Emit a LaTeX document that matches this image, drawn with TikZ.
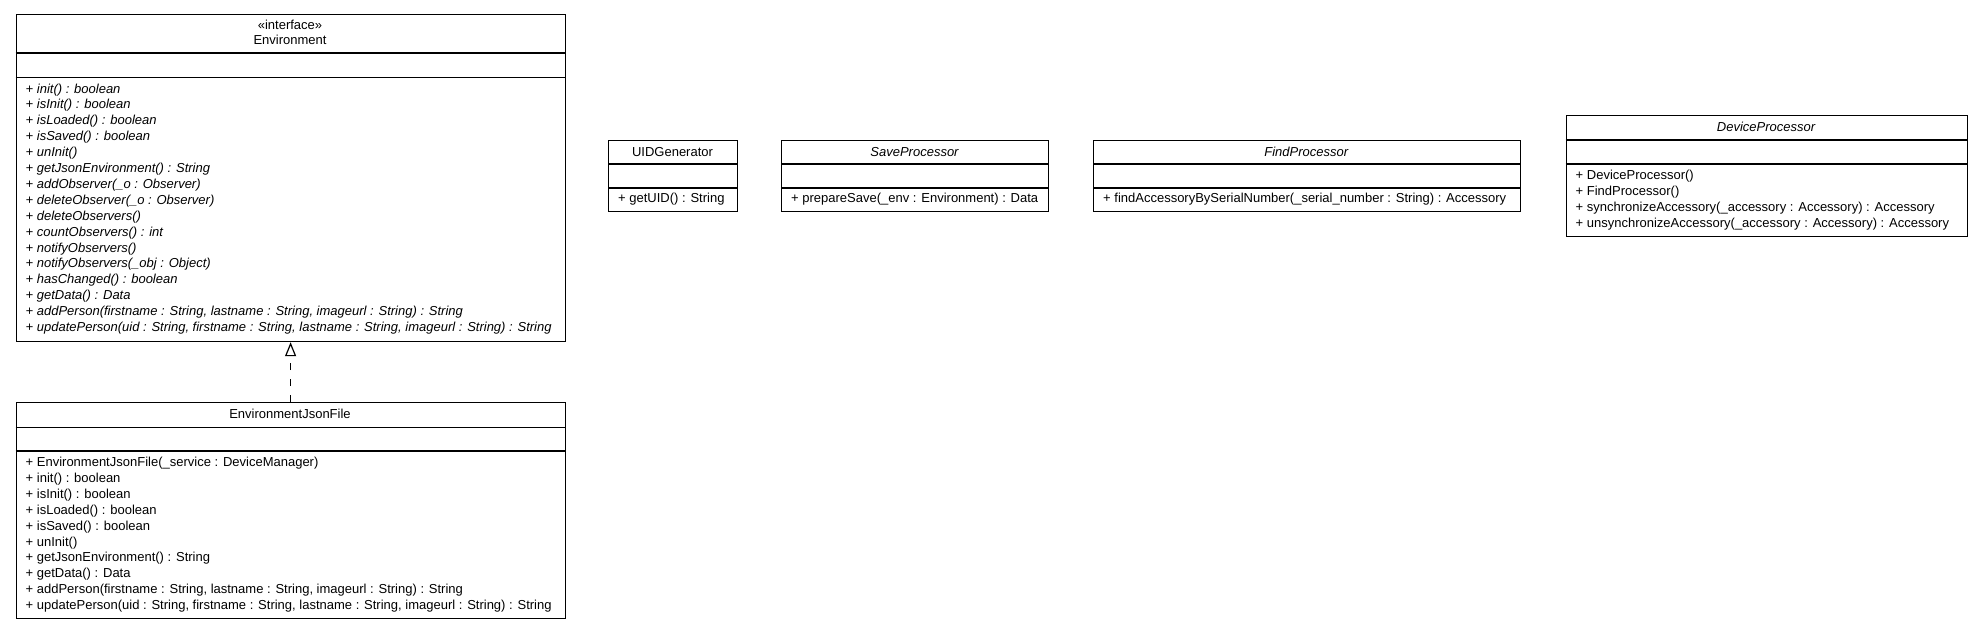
\documentclass[tikz,border=0pt]{standalone}
\usepackage{fontspec}
\setmainfont{Liberation Sans}
\usepackage{tikz}
\usetikzlibrary{arrows.meta}
\tikzstyle{diagram} = [x = 1pt, y = -1pt]
\tikzstyle{classFrame} = [draw=black, line width=1.2pt, inner sep=0pt, anchor=north west]
\tikzstyle{classLine} = [color=black, line width=1.2pt]
\tikzstyle{classText} = [font=\fontsize{13}{16}\selectfont, inner sep=0pt]
\tikzstyle{abstractText} = [font=\fontsize{13}{16}\selectfont\itshape]
\tikzstyle{plainText} = []
\tikzstyle{nameText} = [classText, anchor=base]
\tikzstyle{methodText} = [classText, anchor=base west]
\tikzstyle{realization} = [line width=1.2pt, dash pattern=on 7pt off 9pt, -{Triangle[open, length=14pt, width=11pt]}]
\newcommand{\methodOffset}{10}
\newcommand{\methodSkip}{15.9}
\newcommand{\classBox}[7]{\node [classFrame, minimum width={#4 - #2}, minimum height={#5 - #3}] (#1) at (#2, #3) {};
  \draw [classLine] (#2, #6) -- (#4, #6);
  \draw [classLine] (#2, #7) -- (#4, #7);}
\newcommand{\className}[5]{\node [nameText, #2] (#1) at (#3, #4) {#5};}
\newcommand{\methods}[5]{
  \foreach \method [count = \row] in {#5} {
    \pgfmathsetmacro{\var}{#4 + (\row - 1) * \methodSkip}
    \node [methodText, #2] (#1-\row) at (#3 + \methodOffset, \var) {\method};
  }
}

\begin{document}
\begin{tikzpicture}[diagram]
        \useasboundingbox (0, 0) rectangle (1981, 629);

        \classBox{environment}{15.5}{13.5}{564.5}{341}{53}{77.5}
        \className{environmentStereo}{plainText}{290}{29}{«interface»}
        \className{environmentName}{plainText}{290}{44.5}{Environment}
        \methods{environmentMethod}{abstractText}{15.5}{93}{
          {+ init() : boolean}, {+ isInit() : boolean}, {+ isLoaded() : boolean},
          {+ isSaved() : boolean}, {+ unInit()}, {+ getJsonEnvironment() : String},
          {+ addObserver(\_o : Observer)}, {+ deleteObserver(\_o : Observer)},
          {+ deleteObservers()}, {+ countObservers() : int}, {+ notifyObservers()},
          {+ notifyObservers(\_obj : Object)}, {+ hasChanged() : boolean}, {+ getData() : Data},
          {+ addPerson(firstname : String, lastname : String, imageurl : String) : String},
          {+ updatePerson(uid : String, firstname : String, lastname : String, imageurl : String) : String}}

        \classBox{envJsonFile}{15.5}{402}{564.5}{618}{427.5}{451}
        \className{envJsonFileName}{plainText}{290}{418}{EnvironmentJsonFile}
        \methods{envJsonFileMethod}{plainText}{15.5}{466.5}{
          {+ EnvironmentJsonFile(\_service : DeviceManager)}, {+ init() : boolean},
          {+ isInit() : boolean}, {+ isLoaded() : boolean}, {+ isSaved() : boolean},
          {+ unInit()}, {+ getJsonEnvironment() : String}, {+ getData() : Data},
          {+ addPerson(firstname : String, lastname : String, imageurl : String) : String},
          {+ updatePerson(uid : String, firstname : String, lastname : String, imageurl : String) : String}}

        \classBox{uidGenerator}{608}{140}{737}{211}{164}{188}
        \className{uidGeneratorName}{plainText}{672.5}{156}{UIDGenerator}
        \methods{uidGeneratorMethod}{plainText}{608}{202.5}{{+ getUID() : String}}

        \classBox{saveProcessor}{781}{140}{1048}{211}{164}{188}
        \className{saveProcessorName}{abstractText}{914.5}{156}{SaveProcessor}
        \methods{saveProcessorMethod}{plainText}{781}{202.5}{{+ prepareSave(\_env : Environment) : Data}}

        \classBox{findProcessor}{1093}{140}{1519.5}{211}{164}{188}
        \className{findProcessorName}{abstractText}{1306.25}{156}{FindProcessor}
        \methods{findProcessorMethod}{plainText}{1093}{202.5}{{+ findAccessoryBySerialNumber(\_serial\_number : String) : Accessory}}

        \classBox{deviceProcessor}{1565.5}{115}{1966.5}{236}{140}{164}
        \className{deviceProcessorName}{abstractText}{1766}{131}{DeviceProcessor}
        \methods{deviceProcessorMethod}{plainText}{1565.5}{179.5}{
          {+ DeviceProcessor()}, {+ FindProcessor()},
          {+ synchronizeAccessory(\_accessory : Accessory) : Accessory},
          {+ unsynchronizeAccessory(\_accessory : Accessory) : Accessory}}

        \draw [realization] (envJsonFile.north) -- (environment.south);
      \end{tikzpicture}
\end{document}
